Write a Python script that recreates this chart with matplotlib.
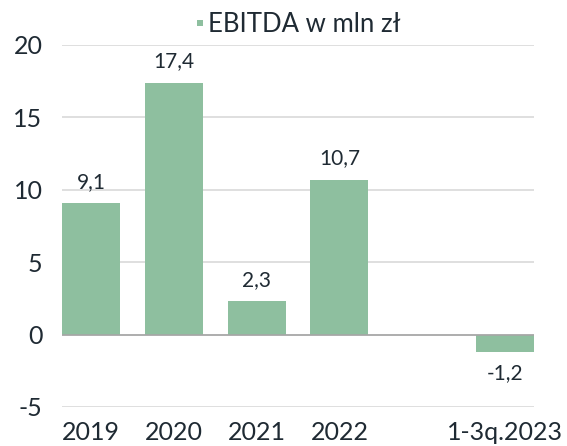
import matplotlib.pyplot as plt
from matplotlib.lines import Line2D

categories = ['2019', '2020', '2021', '2022', '', '1-3q.2023']
values = [9.1, 17.4, 2.3, 10.7, None, -1.2]
value_labels = ['9,1', '17,4', '2,3', '10,7', '', '-1,2']
yticks = [-5, 0, 5, 10, 15, 20]
series_name = 'EBITDA w mln zł'

bar_color = '#8ebf9f'
text_color = '#1f2a33'

plt.rcParams['font.family'] = ['Lato', 'DejaVu Sans']
plt.rcParams['axes.unicode_minus'] = False

fig = plt.figure(figsize=(5.67, 4.46), dpi=100)
ax = fig.add_axes([62 / 567, 1 - 407 / 446, 472 / 567, 362 / 446])

# bars (the empty slot stays blank)
xs = [i for i, v in enumerate(values) if v is not None]
vs = [v for v in values if v is not None]
labs = [l for l, v in zip(value_labels, values) if v is not None]
ax.bar(xs, vs, width=0.7, color=bar_color, zorder=3)

# value labels
for x, v, lab in zip(xs, vs, labs):
    off = 8 if v >= 0 else -8
    ax.annotate(lab, (x, v), xytext=(0, off), textcoords='offset points',
                ha='center', va='bottom' if v >= 0 else 'top',
                fontsize=15, color=text_color)

ax.set_xlim(-0.35, len(categories) - 0.65)
ax.set_ylim(-5, 20)
ax.set_yticks(yticks)
ax.set_xticks(range(len(categories)))
ax.set_xticklabels(categories)

ax.grid(axis='y', color='#d9d9d9', linewidth=1.2, zorder=0)
ax.axhline(0, color='#a6a6a6', linewidth=1.2, zorder=4)
for s in ax.spines.values():
    s.set_visible(False)
ax.tick_params(axis='both', length=0, labelsize=18, colors=text_color)
ax.tick_params(axis='y', pad=14)
ax.tick_params(axis='x', pad=10)

# legend with a small square marker
marker = Line2D([], [], linestyle='none', marker='s', markersize=4.5,
                markerfacecolor=bar_color, markeredgewidth=0)
leg = ax.legend([marker], [series_name], loc='lower center',
                bbox_to_anchor=(0.5, 0.995), frameon=False, fontsize=18.5,
                handlelength=0.3, handletextpad=0.15, borderaxespad=0.0)
for t in leg.get_texts():
    t.set_color(text_color)

plt.savefig('out.png', dpi=100)
